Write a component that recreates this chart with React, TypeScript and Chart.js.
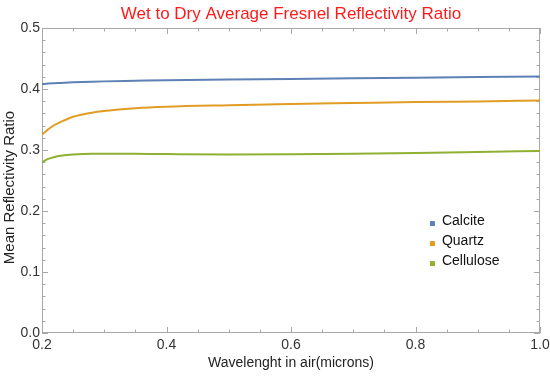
import React, { useEffect, useRef } from "react";
import { Chart, registerables } from "chart.js";

Chart.register(...registerables);

const wavelengths = [0.2, 0.21, 0.22, 0.23, 0.25, 0.28, 0.3, 0.35, 0.4, 0.5, 0.6, 0.7, 0.8, 0.9, 1.0];
const calcite = [0.408, 0.409, 0.4095, 0.41, 0.411, 0.412, 0.4125, 0.4135, 0.4145, 0.4155, 0.4165, 0.4175, 0.4185, 0.4195, 0.4205];
const quartz = [0.325, 0.334, 0.341, 0.346, 0.3545, 0.3612, 0.364, 0.3685, 0.371, 0.3735, 0.3755, 0.377, 0.3785, 0.3797, 0.381];
const cellulose = [0.28, 0.2855, 0.2885, 0.2905, 0.2928, 0.294, 0.294, 0.2937, 0.2933, 0.2928, 0.293, 0.2937, 0.295, 0.2967, 0.2985];

const seriesNames = ["Calcite", "Quartz", "Cellulose"];
const seriesColors = ["#5e81b5", "#e19c24", "#8fb032"];
const xTicks = [0.2, 0.4, 0.6, 0.8, 1.0];
const yTicks = [0.0, 0.1, 0.2, 0.3, 0.4, 0.5];
const titleText = "Wet to Dry Average Fresnel Reflectivity Ratio";
const xTitle = "Wavelenght in air(microns)";
const yTitle = "Mean Reflectivity Ratio";

const FONT = "'Liberation Sans', Arial, sans-serif";

const framePlugin = {
  id: "frameTicks",
  beforeDatasetsDraw(chart: any) {
    const { ctx, chartArea } = chart;
    const { left, right, top, bottom } = chartArea;
    const xs = chart.scales.x;
    const ys = chart.scales.y;
    ctx.save();
    ctx.strokeStyle = "#a8a8a8";
    ctx.lineWidth = 1;
    ctx.strokeRect(left + 0.5, top + 0.5, right - left - 1, bottom - top - 1);
    ctx.beginPath();
    for (let i = 0; i <= 16; i++) {
      const v = 0.2 + i * 0.05;
      const px = Math.round(xs.getPixelForValue(v)) + 0.5;
      const len = i % 4 === 0 ? 6 : 3.5;
      ctx.moveTo(px, bottom);
      ctx.lineTo(px, bottom - len);
      ctx.moveTo(px, top);
      ctx.lineTo(px, top + len);
    }
    for (let i = 0; i <= 25; i++) {
      const v = i * 0.02;
      const py = Math.round(ys.getPixelForValue(v)) + 0.5;
      const len = i % 5 === 0 ? 6 : 3.5;
      ctx.moveTo(left, py);
      ctx.lineTo(left + len, py);
      ctx.moveTo(right, py);
      ctx.lineTo(right - len, py);
    }
    ctx.stroke();
    ctx.restore();
  },
  afterDraw(chart: any) {
    const { ctx, chartArea } = chart;
    const { left, right, top, bottom } = chartArea;
    ctx.save();
    ctx.fillStyle = "#ff1a1a";
    ctx.font = `17px ${FONT}`;
    ctx.textAlign = "center";
    ctx.textBaseline = "middle";
    ctx.fillText(titleText, (left + right) / 2, 14);
    // y axis title
    ctx.save();
    ctx.translate(10, (top + bottom) / 2 + 7);
    ctx.rotate(-Math.PI / 2);
    ctx.fillStyle = "#222";
    ctx.font = `15px ${FONT}`;
    ctx.fillText(yTitle, 0, 0);
    ctx.restore();
    const w = right - left;
    const h = bottom - top;
    const mx = left + w * 0.779;
    const y0 = top + h * 0.633;
    ctx.font = `14px ${FONT}`;
    ctx.textAlign = "left";
    chart.data.datasets.forEach((ds: any, i: number) => {
      const y = y0 + i * 20;
      ctx.fillStyle = ds.borderColor;
      ctx.fillRect(mx, y, 5, 5);
      ctx.fillStyle = "#111";
      ctx.fillText(ds.label, mx + 12, y + 0.5);
    });
    ctx.restore();
  },
};

export default function App() {
  const ref = useRef<HTMLCanvasElement>(null);
  useEffect(() => {
    document.body.style.margin = "0";
    const datasets = [calcite, quartz, cellulose].map((vals, i) => ({
      label: seriesNames[i],
      data: wavelengths.map((x, j) => ({ x, y: vals[j] })),
      borderColor: seriesColors[i],
      backgroundColor: seriesColors[i],
      borderWidth: 2,
      pointRadius: 0,
      cubicInterpolationMode: "monotone" as const,
      fill: false,
    }));
    const chart = new Chart(ref.current!, {
      type: "line",
      data: { datasets },
      plugins: [framePlugin],
      options: {
        animation: false,
        responsive: false,
        layout: { padding: { top: 28, right: 10, left: 0, bottom: 0 } },
        plugins: { legend: { display: false }, title: { display: false }, tooltip: { enabled: false } },
        scales: {
          x: {
            type: "linear",
            min: 0.2,
            max: 1.0,
            afterFit: (s: any) => { s.height = 47; s.paddingLeft = 0; s.paddingRight = 0; },
            afterBuildTicks: (s: any) => { s.ticks = xTicks.map((v) => ({ value: v })); },
            grid: { display: false, drawTicks: false },
            border: { display: false },
            ticks: {
              padding: 4,
              color: "#333",
              font: { family: FONT, size: 14 },
              callback: (v: any) => Number(v).toFixed(1),
            },
            title: { display: true, text: xTitle, color: "#222", font: { family: FONT, size: 14 }, padding: 8 },
          },
          y: {
            type: "linear",
            min: 0,
            max: 0.5,
            afterFit: (s: any) => { s.width = 42; s.paddingTop = 0; s.paddingBottom = 0; },
            afterBuildTicks: (s: any) => { s.ticks = yTicks.map((v) => ({ value: v })); },
            grid: { display: false, drawTicks: false },
            border: { display: false },
            ticks: {
              padding: 2,
              color: "#333",
              font: { family: FONT, size: 14 },
              callback: (v: any) => Number(v).toFixed(1),
            },
            title: { display: false, text: yTitle },
          },
        },
      },
    });
    return () => chart.destroy();
  }, []);
  return (
    <div style={{ width: 550, height: 380 }}>
      <canvas ref={ref} width={550} height={380} style={{ width: 550, height: 380, display: "block" }} />
    </div>
  );
}
